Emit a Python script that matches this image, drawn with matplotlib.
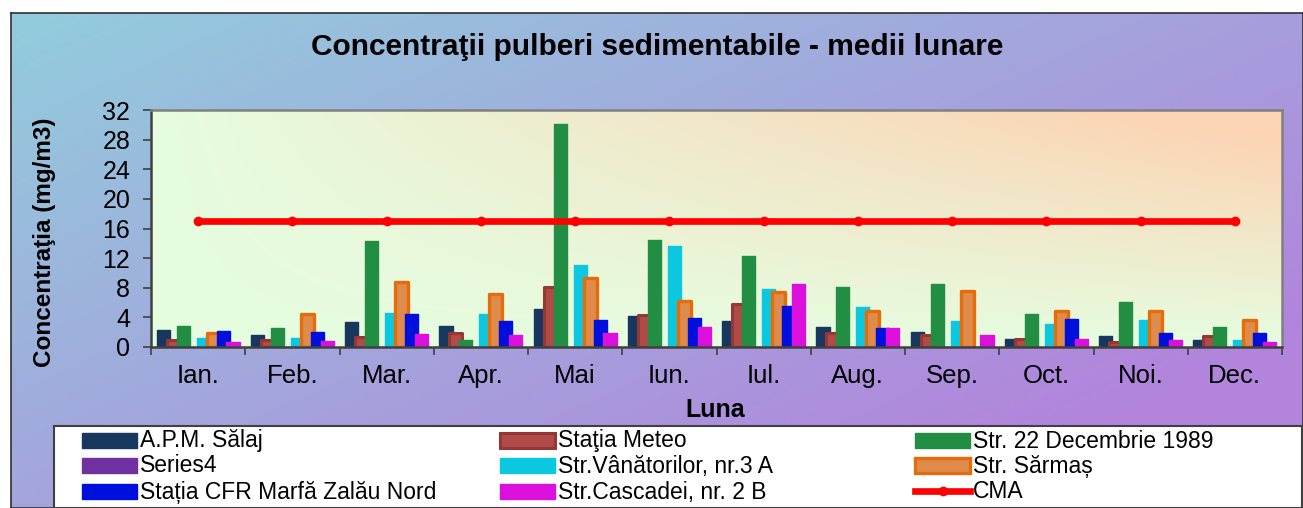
import matplotlib
matplotlib.use("Agg")
import matplotlib.pyplot as plt
import matplotlib.patches as shapes
from matplotlib.lines import Line2D
import numpy as np

plt.rcParams['font.family'] = ['Liberation Sans', 'DejaVu Sans']

# ---- data ----
months = ["Ian.", "Feb.", "Mar.", "Apr.", "Mai", "Iun.", "Iul.", "Aug.", "Sep.", "Oct.", "Noi.", "Dec."]
apm = [2.26, 1.62, 3.34, 2.84, 5.14, 4.15, 3.56, 2.70, 2.03, 1.04, 1.54, 0.95]
meteo = [1.00, 0.95, 1.40, 1.95, 8.07, 4.28, 5.81, 1.90, 1.58, 1.04, 0.63, 1.54]
str22 = [2.84, 2.62, 14.28, 0.95, 30.1, 14.42, 12.35, 8.10, 8.51, 4.50, 6.04, 2.76]
series4 = [0, 0, 0, 0, 0, 0, 0, 0, 0, 0, 0, 0]
vanatorilor = [1.27, 1.27, 4.65, 4.42, 11.13, 13.70, 7.80, 5.45, 3.56, 3.16, 3.60, 0.95]
sarmas = [1.95, 4.50, 8.78, 7.20, 9.38, 6.18, 7.39, 4.82, 7.62, 4.92, 4.82, 3.60]
cfr = [2.16, 2.03, 4.42, 3.56, 3.60, 3.92, 5.54, 2.62, 0, 3.74, 1.85, 1.85]
cascadei = [0.63, 0.77, 1.76, 1.62, 1.85, 2.76, 8.47, 2.62, 1.67, 1.04, 0.90, 0.63]
cma = [17] * 12

names = ["A.P.M. Sălaj", "Staţia Meteo", "Str. 22 Decembrie 1989", "Series4",
         "Str.Vânătorilor, nr.3 A", "Str. Sărmaș", "Stația CFR Marfă Zalău Nord",
         "Str.Cascadei, nr. 2 B"]
series = [apm, meteo, str22, series4, vanatorilor, sarmas, cfr, cascadei]
faces = ["#17375E", "#B04B48", "#228E43", "#7030A0", "#0BC8E0", "#DE8B4C", "#0010DC", "#DC10DC"]
edges = ["#17375E", "#953735", "#228E43", "#7030A0", "#0BC8E0", "#E46C0A", "#0010DC", "#DC10DC"]
lws = [1.0, 2.2, 1.0, 1.0, 1.0, 2.4, 1.0, 1.0]

W, H = 1303, 508
fig = plt.figure(figsize=(W / 100, H / 100), dpi=100)
fig.patch.set_facecolor("white")

# outer chart area gradient
bg = fig.add_axes([11 / W, 0, 1 - 11 / W, (H - 13) / H], zorder=-10)
gx, gy = np.meshgrid(np.linspace(0, 1, 300), np.linspace(0, 1, 120))
t = np.clip(gx * 0.65 + gy * 0.55, 0, 1)[..., None]
c0 = np.array([146, 205, 221]) / 255
c1 = np.array([178, 132, 220]) / 255
bg.imshow(c0 * (1 - t) + c1 * t, extent=[0, 1, 0, 1], aspect="auto", origin="upper")
bg.set_xticks([])
bg.set_yticks([])
for s in bg.spines.values():
    s.set_color("#303030")
    s.set_linewidth(1.2)

# plot area
ax = fig.add_axes([151 / W, (H - 347) / H, (1282 - 151) / W, (347 - 110) / H])
ax.set_facecolor("none")
px, py = np.meshgrid(np.linspace(0, 1, 300), np.linspace(1, 0, 120))
tp = np.clip(px * py * 1.15, 0, 1)[..., None]
g0 = np.array([230, 253, 224]) / 255
g1 = np.array([252, 212, 180]) / 255
ax.imshow(g0 * (1 - tp) + g1 * tp, extent=[0, 1, 0, 1], transform=ax.transAxes,
          aspect="auto", origin="upper", zorder=0)

x = np.arange(len(months))
step = 0.106
width = 0.14
for i, vals in enumerate(series):
    ax.bar(x + (i - 3.5) * step, vals, width, color=faces[i], edgecolor=edges[i],
           linewidth=lws[i], joinstyle="round", zorder=2)

ax.plot(x, cma, color="#FF0000", linewidth=4.8, marker="o", markersize=6, zorder=3)

ax.set_xlim(-0.5, len(months) - 0.5)
ax.set_ylim(0, 32)
ax.set_yticks(np.arange(0, 33, 4))
ax.set_xticks(x)
ax.set_xticklabels(months, fontsize=18.5)
ax.set_xticks(np.arange(-0.5, len(months), 1), minor=True)
ax.tick_params(axis="x", which="major", length=0, pad=12)
ax.tick_params(axis="x", which="minor", length=6, width=1.2, color="#404040")
ax.tick_params(axis="y", labelsize=18, length=6, width=1.2, color="#404040", pad=9)
for side in ["left", "bottom"]:
    ax.spines[side].set_color("#404040")
    ax.spines[side].set_linewidth(1.8)
for side in ["top", "right"]:
    ax.spines[side].set_color("#808080")
    ax.spines[side].set_linewidth(1.8)

fig.text(657 / W, 1 - 47 / H, "Concentraţii pulberi sedimentabile - medii lunare",
         ha="center", va="center", fontsize=21.5, fontweight="bold")
fig.text(45 / W, 1 - 242 / H, "Concentraţia (mg/m3)", ha="center", va="center",
         rotation=90, fontsize=17.5, fontweight="bold")
fig.text(715 / W, 1 - 410 / H, "Luna", ha="center", va="center", fontsize=18,
         fontweight="bold")

# legend box, laid out like the original (3 even columns)
lg = fig.add_axes([54 / W, 0, (1302 - 54) / W, (H - 426) / H])
lg.set_xlim(54, 1302)
lg.set_ylim(H, 426)
lg.set_facecolor("white")
lg.set_xticks([])
lg.set_yticks([])
for s in lg.spines.values():
    s.set_color("#404040")
    s.set_linewidth(1.5)

col_x = [82, 500, 915]
row_y = [440, 465, 491]
entries = list(range(len(names))) + ["cma"]
for k, e in enumerate(entries):
    cx = col_x[k % 3]
    cy = row_y[k // 3]
    if e == "cma":
        lg.add_line(Line2D([cx, cx + 55], [cy, cy], color="#FF0000", linewidth=4.8))
        lg.plot([cx + 27.5], [cy], "o", color="#FF0000", markersize=6)
        label = "CMA"
    else:
        lg.add_patch(shapes.Rectangle((cx, cy - 7.5), 55, 15, facecolor=faces[e],
                                      edgecolor=edges[e], linewidth=lws[e]))
        label = names[e]
    lg.text(cx + 58, cy + 1, label, ha="left", va="center", fontsize=16.5)

fig.savefig("out.png", dpi=100)
